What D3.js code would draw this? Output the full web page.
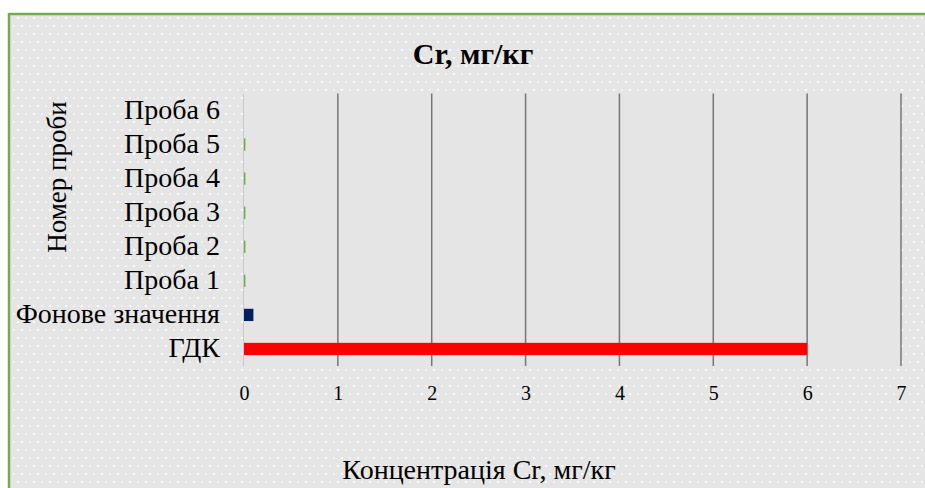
<!DOCTYPE html>
<html>
<head>
<meta charset="utf-8">
<script src="https://cdn.jsdelivr.net/npm/d3@7"></script>
<style>
  html, body { margin: 0; padding: 0; background: #ffffff; }
  svg { display: block; }
  text { font-family: "Liberation Serif", "Times New Roman", serif; fill: #000; }
</style>
</head>
<body>
<svg id="chart" width="925" height="488"></svg>
<script>
// Categories from bottom to top as shown on the vertical axis
const categories = ["ГДК", "Фонове значення", "Проба 1", "Проба 2", "Проба 3", "Проба 4", "Проба 5", "Проба 6"];
// Cr concentration, mg/kg
const values = [6, 0.1, 0.015, 0.015, 0.015, 0.015, 0.015, 0];
const barColors = ["#ff0000", "#002060", "#70ad47", "#70ad47", "#70ad47", "#70ad47", "#70ad47", "#70ad47"];
const xTicks = [0, 1, 2, 3, 4, 5, 6, 7];

const chartTitle = "Cr, мг/кг";
const xTitle = "Концентрація Cr, мг/кг";
const yTitle = "Номер проби";

const W = 925, H = 488;
const plot = { left: 244, right: 901, top: 93.5, bottom: 366 };

const svg = d3.select("#chart");
const defs = svg.append("defs");

// Dotted chart-area fill
const pat = defs.append("pattern")
  .attr("id", "dots").attr("patternUnits", "userSpaceOnUse")
  .attr("width", 16).attr("height", 16);
pat.append("rect").attr("width", 16).attr("height", 16).attr("fill", "#e5e5e5");
[[1, 1, 0.95], [9, 1, 0.5], [5, 9, 0.95], [13, 9, 0.5]].forEach(([x, y, o]) => {
  pat.append("rect").attr("x", x).attr("y", y).attr("width", 2).attr("height", 2)
    .attr("fill", "#ffffff").attr("opacity", o);
});

// Chart area with green frame (top and left edges visible)
svg.append("rect").attr("x", 9).attr("y", 14).attr("width", W - 9).attr("height", H - 14)
  .attr("fill", "url(#dots)");
svg.append("line").attr("x1", 9).attr("x2", W).attr("y1", 14).attr("y2", 14)
  .attr("stroke", "#70ad47").attr("stroke-width", 2.5);
svg.append("line").attr("x1", 9).attr("x2", 9).attr("y1", 13).attr("y2", H)
  .attr("stroke", "#70ad47").attr("stroke-width", 2.5);

// Plot area
svg.append("rect")
  .attr("x", plot.left).attr("y", plot.top)
  .attr("width", plot.right - plot.left).attr("height", plot.bottom - plot.top)
  .attr("fill", "#e5e5e5");

const x = d3.scaleLinear().domain([0, 7]).range([plot.left, plot.right]);
const y = d3.scaleBand().domain(categories).range([plot.bottom, plot.top]).paddingInner(0.64).paddingOuter(0.32);

// Vertical gridlines
svg.append("g").selectAll("line").data(xTicks.slice(1)).join("line")
  .attr("x1", d => x(d)).attr("x2", d => x(d))
  .attr("y1", plot.top).attr("y2", plot.bottom)
  .attr("stroke", "#767676").attr("stroke-width", 1.5);

// Category axis line
svg.append("line")
  .attr("x1", plot.left - 0.5).attr("x2", plot.left - 0.5)
  .attr("y1", plot.top).attr("y2", plot.bottom)
  .attr("stroke", "#c8c8c8").attr("stroke-width", 1);

// Bars
svg.append("g").selectAll("rect").data(categories).join("rect")
  .attr("x", x(0))
  .attr("y", d => y(d))
  .attr("width", (d, i) => x(values[i]) - x(0))
  .attr("height", y.bandwidth())
  .attr("fill", (d, i) => barColors[i]);

// Category labels
const yAxis = d3.axisLeft(y).tickSize(0).tickPadding(0);
const yg = svg.append("g").attr("transform", `translate(${plot.left - 24},0)`).call(yAxis);
yg.select(".domain").remove();
yg.selectAll("text")
  .attr("font-family", "Liberation Serif, serif").attr("font-size", 28)
  .attr("fill", "#000").attr("dy", "0.3em");

// Value axis labels
const xAxis = d3.axisBottom(x).tickValues(xTicks).tickSize(0).tickPadding(0).tickFormat(d3.format("d"));
const xg = svg.append("g").attr("transform", `translate(0,${plot.bottom + 20})`).call(xAxis);
xg.select(".domain").remove();
xg.selectAll("text")
  .attr("font-family", "Liberation Serif, serif").attr("font-size", 20)
  .attr("fill", "#000").attr("dy", "0.71em");

// Titles
svg.append("text").attr("x", 473).attr("y", 64).attr("text-anchor", "middle")
  .attr("font-size", 30).attr("font-weight", "bold").text(chartTitle);
svg.append("text").attr("x", 479).attr("y", 479).attr("text-anchor", "middle")
  .attr("font-size", 28).text(xTitle);
svg.append("text").attr("transform", "translate(66,177) rotate(-90)").attr("text-anchor", "middle")
  .attr("font-size", 27).text(yTitle);
</script>
</body>
</html>
